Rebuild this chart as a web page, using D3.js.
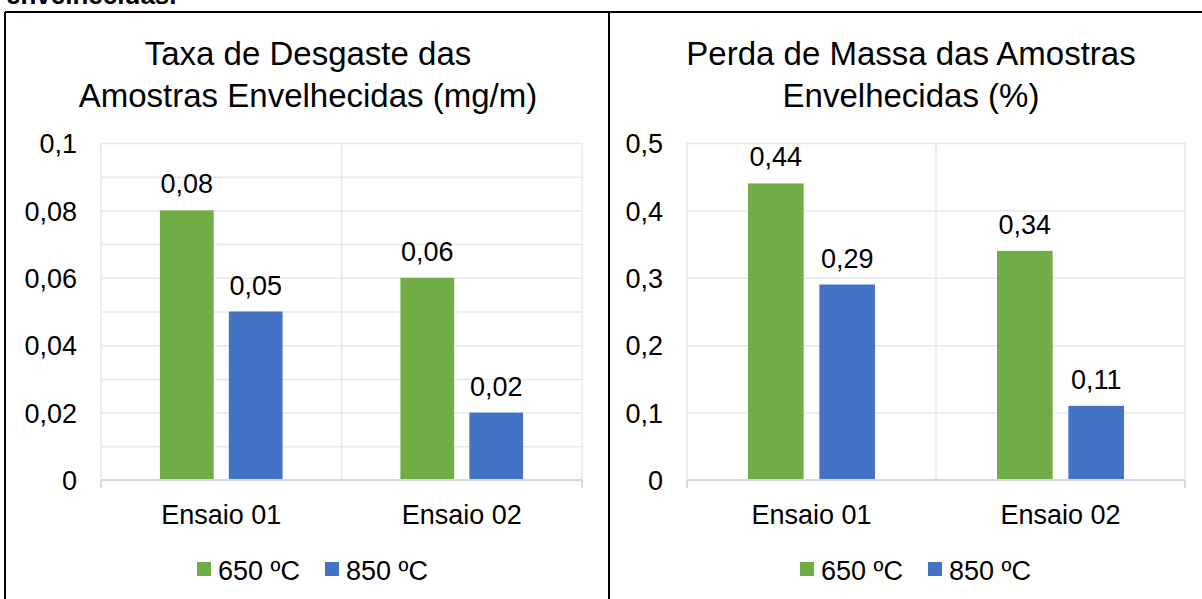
<!DOCTYPE html>
<html lang="pt">
<head>
<meta charset="utf-8">
<script src="https://cdn.jsdelivr.net/npm/d3@7"></script>
<style>
  body { margin: 0; background: #fff; }
  svg { display: block; font-family: "Liberation Sans", Arial, sans-serif; }
  .tick text { fill: #000; font-size: 27px; }
  .grid .tick line { stroke: #e8e8e8; stroke-width: 1.5; }
</style>
</head>
<body>
<svg width="1202" height="599"></svg>
<script>
// data
const categories = ['Ensaio 01', 'Ensaio 02'];
const seriesNames = ['650 ºC', '850 ºC'];
const seriesColors = ['#70AD47', '#4472C4'];

const desgaste650 = [0.08, 0.06];
const desgaste850 = [0.05, 0.02];
const desgasteTicks = [0, 0.02, 0.04, 0.06, 0.08, 0.1];
const desgasteGrid = [0, 0.01, 0.02, 0.03, 0.04, 0.05, 0.06, 0.07, 0.08, 0.09, 0.1];

const perda650 = [0.44, 0.34];
const perda850 = [0.29, 0.11];
const perdaTicks = [0, 0.1, 0.2, 0.3, 0.4, 0.5];

const pt = d3.formatLocale({ decimal: ',', thousands: '.', grouping: [3], currency: ['', ''] });
const fmt = pt.format('~g');

const svg = d3.select('svg');

// frame of the table the charts sit in, plus the cut caption above it
svg.append('text')
    .attr('x', 6).attr('y', 4)
    .style('font-weight', 'bold').style('font-size', '26px')
    .text('envelhecidas.');
const frame = svg.append('g').attr('stroke', '#000').attr('stroke-width', 2);
frame.append('line').attr('x1', 5).attr('x2', 1202).attr('y1', 12).attr('y2', 12);
frame.append('line').attr('x1', 5).attr('x2', 5).attr('y1', 12).attr('y2', 599);
frame.append('line').attr('x1', 609).attr('x2', 609).attr('y1', 12).attr('y2', 599);

function drawChart(opt) {
  const yTop = 143, yBottom = 480;
  const x0 = d3.scaleBand().domain(categories).range([opt.left, opt.right]);
  const bw = x0.bandwidth();
  const x1 = d3.scaleBand().domain(seriesNames)
      .range([bw * 0.245, bw * 0.755]).paddingInner(0.22);
  const y = d3.scaleLinear().domain([0, opt.max]).range([yBottom, yTop]);

  const g = svg.append('g');

  // title
  const title = g.append('text')
      .attr('text-anchor', 'middle')
      .style('font-size', '33px');
  opt.title.forEach((t, i) => {
    title.append('tspan').attr('x', opt.center).attr('y', 65 + i * 42).text(t);
  });

  // horizontal gridlines
  g.append('g').attr('class', 'grid')
      .attr('transform', `translate(${opt.left},0)`)
      .call(d3.axisLeft(y).tickValues(opt.grid).tickSize(-(opt.right - opt.left)).tickFormat(''))
      .call(s => s.select('.domain').remove());

  // vertical gridlines at the category edges
  const edges = categories.map(c => x0(c)).concat([opt.right]);
  g.selectAll('.vgrid').data(edges).enter().append('line')
      .attr('x1', d => d).attr('x2', d => d)
      .attr('y1', yTop).attr('y2', yBottom)
      .attr('stroke', '#e8e8e8').attr('stroke-width', 1.5);

  // y axis labels
  g.append('g')
      .attr('transform', `translate(${opt.left},0)`)
      .call(d3.axisLeft(y).tickValues(opt.ticks).tickSize(0).tickPadding(24).tickFormat(fmt))
      .call(s => s.select('.domain').remove())
      .selectAll('text').attr('dy', '0.36em');

  // bars
  const rows = categories.map((c, i) => ({ cat: c, vals: opt.values.map(v => v[i]) }));
  const grp = g.selectAll('.cat').data(rows).enter().append('g')
      .attr('transform', d => `translate(${x0(d.cat)},0)`);
  grp.selectAll('rect').data(d => d.vals.map((v, j) => ({ s: seriesNames[j], v, j })))
    .enter().append('rect')
      .attr('x', d => x1(d.s))
      .attr('y', d => y(d.v))
      .attr('width', x1.bandwidth())
      .attr('height', d => yBottom - y(d.v))
      .attr('fill', d => seriesColors[d.j]);
  grp.selectAll('.lbl').data(d => d.vals.map((v, j) => ({ s: seriesNames[j], v })))
    .enter().append('text')
      .attr('x', d => x1(d.s) + x1.bandwidth() / 2)
      .attr('y', d => y(d.v) - 17)
      .attr('text-anchor', 'middle')
      .style('font-size', '27px')
      .text(d => fmt(d.v));

  // x axis
  g.append('line')
      .attr('x1', opt.left).attr('x2', opt.right)
      .attr('y1', yBottom).attr('y2', yBottom)
      .attr('stroke', '#d9d9d9').attr('stroke-width', 2);
  [opt.left, opt.right].forEach(xv => {
    g.append('line')
        .attr('x1', xv).attr('x2', xv).attr('y1', yBottom).attr('y2', yBottom + 8)
        .attr('stroke', '#d9d9d9').attr('stroke-width', 2);
  });
  g.selectAll('.catlbl').data(categories).enter().append('text')
      .attr('x', d => x0(d) + bw / 2)
      .attr('y', 524)
      .attr('text-anchor', 'middle')
      .style('font-size', '27px')
      .text(d => d);

  // legend
  const offs = [-111, 17];
  seriesNames.forEach((s, i) => {
    const lx = opt.center + offs[i];
    g.append('rect').attr('x', lx).attr('y', 562).attr('width', 14).attr('height', 14)
        .attr('fill', seriesColors[i]);
    g.append('text').attr('x', lx + 21).attr('y', 580)
        .style('font-size', '27px').text(s);
  });
}

drawChart({
  left: 101, right: 582, center: 308, max: 0.1,
  ticks: desgasteTicks, grid: desgasteGrid,
  values: [desgaste650, desgaste850],
  title: ['Taxa de Desgaste das', 'Amostras Envelhecidas (mg/m)']
});

drawChart({
  left: 687, right: 1185, center: 911, max: 0.5,
  ticks: perdaTicks, grid: perdaTicks,
  values: [perda650, perda850],
  title: ['Perda de Massa das Amostras', 'Envelhecidas (%)']
});
</script>
</body>
</html>
